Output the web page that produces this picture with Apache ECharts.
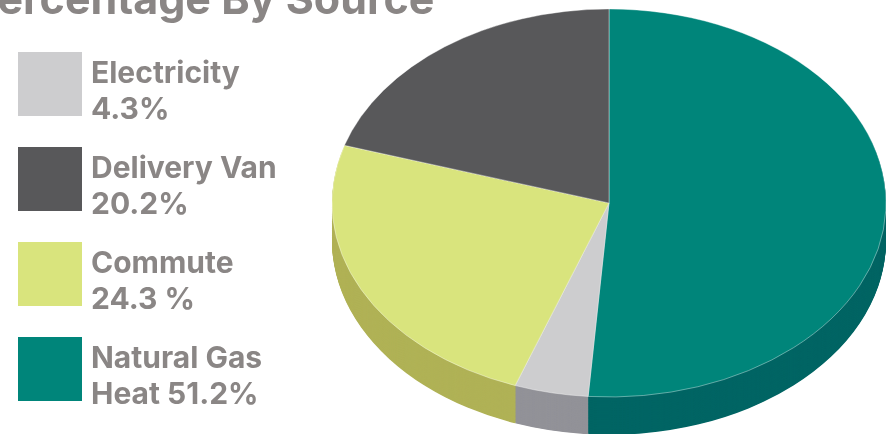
<!DOCTYPE html>
<html>
<head>
<meta charset="utf-8">
<script src="https://cdn.jsdelivr.net/npm/echarts@6/dist/echarts.min.js"></script>
<style>
  html, body { margin: 0; padding: 0; background: #ffffff; overflow: hidden; }
  #wrap { position: relative; width: 886px; height: 434px; overflow: hidden; }
  #pie { position: absolute; left: 0; top: 0; width: 886px; height: 620px; transform-origin: 0 0; }
  #main { position: absolute; left: 0; top: 0; width: 886px; height: 434px; }
</style>
</head>
<body>
<div id="wrap">
  <div id="pie"></div>
  <div id="main"></div>
</div>
<script>
// ---- data ----
const titleText = 'Percentage By Source';
const sliceNames = ['Natural Gas Heat', 'Electricity', 'Commute', 'Delivery Van'];
const sliceValues = [51.2, 4.3, 24.3, 20.2];
const legendOrder = ['Electricity', 'Delivery Van', 'Commute', 'Natural Gas Heat'];
const legendLine1 = ['Electricity', 'Delivery Van', 'Commute', 'Natural Gas'];
const legendLine2 = ['4.3%', '20.2%', '24.3 %', 'Heat 51.2%'];

// ---- styles ----
const topColors = ['#00857a', '#cdcdcf', '#d9e47d', '#58585a'];
const sideColors = ['#006564', '#929298', '#b0b256', '#3e3e40'];
const tilt = 194 / 277;          // vertical squash of the pie disc
const depthPx = 38;              // visible thickness in screen px
const cxPx = 609, cyPx = 203, rPx = 277;

// ---- 3D pie (pie series stacked, container squashed vertically) ----
const pieDiv = document.getElementById('pie');
pieDiv.style.transform = 'scaleY(' + tilt + ')';
const pieChart = echarts.init(pieDiv, null, { renderer: 'svg', width: 886, height: 434 / tilt });

function pieLayer(offset, colors, isTop) {
  return {
    type: 'pie',
    silent: true,
    animation: false,
    startAngle: 90,
    clockwise: true,
    radius: rPx,
    center: [cxPx, cyPx / tilt + offset],
    label: { show: false },
    labelLine: { show: false },
    emphasis: { disabled: true },
    itemStyle: isTop
      ? { borderColor: 'rgba(255,255,255,0.45)', borderWidth: 1 }
      : { borderWidth: 0 },
    data: sliceNames.map((n, i) => ({ name: n, value: sliceValues[i], itemStyle: { color: colors[i] } }))
  };
}
const layers = [];
const nSide = Math.round(depthPx / tilt);
for (let k = nSide; k >= 1; k--) layers.push(pieLayer(k, sideColors, false));
layers.push(pieLayer(0, topColors, true));
pieChart.setOption({ backgroundColor: 'transparent', series: layers });

// ---- title + legend ----
const txtFont = { color: '#8a8685', fontFamily: 'Inter', fontWeight: 'bold', fontSize: 30 };
const mainChart = echarts.init(document.getElementById('main'), null, { renderer: 'canvas' });
mainChart.setOption({
  backgroundColor: 'transparent',
  title: {
    text: titleText,
    left: -30,
    top: -23,
    padding: 0,
    textStyle: { color: '#8a8685', fontFamily: 'Inter', fontWeight: 'bold', fontSize: 43, lineHeight: 48 }
  },
  legend: {
    orient: 'vertical',
    left: 18,
    top: 52,
    padding: 0,
    itemGap: 22,
    itemWidth: 64,
    itemHeight: 64,
    icon: 'rect',
    selectedMode: false,
    data: legendOrder,
    formatter: function (name) {
      const i = legendOrder.indexOf(name);
      return '{a|' + legendLine1[i] + '}\n{b|' + legendLine2[i] + '}';
    },
    textStyle: {
      color: '#8a8685', fontFamily: 'Inter', fontWeight: 'bold', fontSize: 30,
      padding: [0, 0, 0, 4],
      rich: {
        a: Object.assign({ lineHeight: 52 }, txtFont),
        b: Object.assign({ lineHeight: 20 }, txtFont)
      }
    }
  },
  series: [{
    type: 'pie',
    silent: true,
    animation: false,
    radius: 0,
    center: [cxPx, cyPx],
    label: { show: false },
    labelLine: { show: false },
    itemStyle: { borderWidth: 0 },
    data: sliceNames.map((n, i) => ({ name: n, value: sliceValues[i], itemStyle: { color: topColors[i] } }))
  }]
});
</script>
</body>
</html>
